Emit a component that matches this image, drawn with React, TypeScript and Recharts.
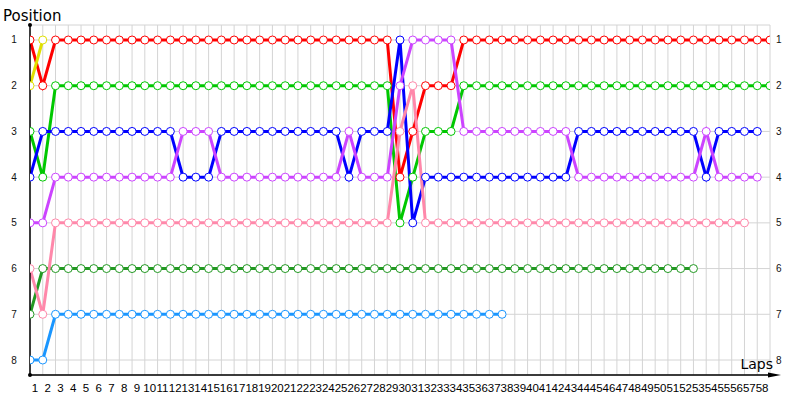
import React from 'react';
import { LineChart, Line, XAxis, YAxis, CartesianGrid } from 'recharts';

// Columns: 0 = start grid, then one column after each lap
const lapColumns = [
  0, 1, 2, 3, 4, 5, 6, 7, 8, 9,
  10, 11, 12, 13, 14, 15, 16, 17, 18, 19,
  20, 21, 22, 23, 24, 25, 26, 27, 28, 29,
  30, 31, 32, 33, 34, 35, 36, 37, 38, 39,
  40, 41, 42, 43, 44, 45, 46, 47, 48, 49,
  50, 51, 52, 53, 54, 55, 56, 57, 58,
];
const lapLabels = [
  1, 2, 3, 4, 5, 6, 7, 8, 9, 10,
  11, 12, 13, 14, 15, 16, 17, 18, 19, 20,
  21, 22, 23, 24, 25, 26, 27, 28, 29, 30,
  31, 32, 33, 34, 35, 36, 37, 38, 39, 40,
  41, 42, 43, 44, 45, 46, 47, 48, 49, 50,
  51, 52, 53, 54, 55, 56, 57, 58,
];
const positions = [1, 2, 3, 4, 5, 6, 7, 8];

const red = [
  1, 2, 1, 1, 1, 1, 1, 1, 1, 1,
  1, 1, 1, 1, 1, 1, 1, 1, 1, 1,
  1, 1, 1, 1, 1, 1, 1, 1, 1, 4,
  3, 2, 2, 2, 1, 1, 1, 1, 1, 1,
  1, 1, 1, 1, 1, 1, 1, 1, 1, 1,
  1, 1, 1, 1, 1, 1, 1, 1, 1,
];
const yellow = [
  2, 1, null, null, null, null, null, null, null, null,
  null, null, null, null, null, null, null, null, null, null,
  null, null, null, null, null, null, null, null, null, null,
  null, null, null, null, null, null, null, null, null, null,
  null, null, null, null, null, null, null, null, null, null,
  null, null, null, null, null, null, null, null, null,
];
const green = [
  3, 4, 2, 2, 2, 2, 2, 2, 2, 2,
  2, 2, 2, 2, 2, 2, 2, 2, 2, 2,
  2, 2, 2, 2, 2, 2, 2, 2, 2, 5,
  4, 3, 3, 3, 2, 2, 2, 2, 2, 2,
  2, 2, 2, 2, 2, 2, 2, 2, 2, 2,
  2, 2, 2, 2, 2, 2, 2, 2, 2,
];
const blue = [
  4, 3, 3, 3, 3, 3, 3, 3, 3, 3,
  3, 3, 4, 4, 4, 3, 3, 3, 3, 3,
  3, 3, 3, 3, 3, 4, 3, 3, 3, 1,
  5, 4, 4, 4, 4, 4, 4, 4, 4, 4,
  4, 4, 4, 3, 3, 3, 3, 3, 3, 3,
  3, 3, 3, 4, 3, 3, 3, 3, null,
];
const purple = [
  5, 5, 4, 4, 4, 4, 4, 4, 4, 4,
  4, 4, 3, 3, 3, 4, 4, 4, 4, 4,
  4, 4, 4, 4, 4, 3, 4, 4, 4, 2,
  1, 1, 1, 1, 3, 3, 3, 3, 3, 3,
  3, 3, 3, 4, 4, 4, 4, 4, 4, 4,
  4, 4, 4, 3, 4, 4, 4, 4, null,
];
const pink = [
  6, 7, 5, 5, 5, 5, 5, 5, 5, 5,
  5, 5, 5, 5, 5, 5, 5, 5, 5, 5,
  5, 5, 5, 5, 5, 5, 5, 5, 5, 3,
  2, 5, 5, 5, 5, 5, 5, 5, 5, 5,
  5, 5, 5, 5, 5, 5, 5, 5, 5, 5,
  5, 5, 5, 5, 5, 5, 5, null, null,
];
const darkGreen = [
  7, 6, 6, 6, 6, 6, 6, 6, 6, 6,
  6, 6, 6, 6, 6, 6, 6, 6, 6, 6,
  6, 6, 6, 6, 6, 6, 6, 6, 6, 6,
  6, 6, 6, 6, 6, 6, 6, 6, 6, 6,
  6, 6, 6, 6, 6, 6, 6, 6, 6, 6,
  6, 6, 6, null, null, null, null, null, null,
];
const lightBlue = [
  8, 8, 7, 7, 7, 7, 7, 7, 7, 7,
  7, 7, 7, 7, 7, 7, 7, 7, 7, 7,
  7, 7, 7, 7, 7, 7, 7, 7, 7, 7,
  7, 7, 7, 7, 7, 7, 7, 7, null, null,
  null, null, null, null, null, null, null, null, null, null,
  null, null, null, null, null, null, null, null, null,
];

const series = [
  { key: 'darkGreen', color: '#229922', values: darkGreen },
  { key: 'lightBlue', color: '#1a96ff', values: lightBlue },
  { key: 'green', color: '#00c800', values: green },
  { key: 'red', color: '#ff0000', values: red },
  { key: 'yellow', color: '#e0e000', values: yellow },
  { key: 'blue', color: '#0000ff', values: blue },
  { key: 'purple', color: '#cc44ff', values: purple },
  { key: 'pink', color: '#ff88aa', values: pink },
];

const data = lapColumns.map((col, i) => {
  const row: Record<string, number | null> = { col };
  series.forEach((s) => {
    row[s.key] = s.values[i];
  });
  return row;
});

// each lap label sits between the column before and after that lap
const labelTicks = lapLabels.map((n) => n - 0.5);

const FONT = 'Liberation Sans, Arial, sans-serif';

const XTick = (props: any) => (
  <text x={props.x} dx={-1.5} y={392} textAnchor="middle" fontSize={11.5} fontFamily={FONT} fill="#000">
    {Math.round(props.payload.value + 0.5)}
  </text>
);
const LeftTick = (props: any) => (
  <text x={14} y={props.y} dy="0.35em" textAnchor="middle" fontSize={10} fontFamily={FONT} fill="#111">
    {props.payload.value}
  </text>
);
const RightTick = (props: any) => (
  <text x={776} y={props.y} dy="0.35em" textAnchor="start" fontSize={10} fontFamily={FONT} fill="#111">
    {props.payload.value}
  </text>
);

export default function App() {
  return (
    <div style={{ position: 'absolute', left: 0, top: 0, width: 800, height: 400, background: '#fff' }}>
      <LineChart width={800} height={400} data={data} margin={{ top: 25, right: 0, bottom: 0, left: 0 }}>
        <CartesianGrid yAxisId="left" stroke="#d4d4d4" strokeWidth={1} verticalValues={lapColumns} />
        <XAxis
          dataKey="col"
          type="number"
          domain={[0, 58]}
          ticks={labelTicks}
          interval={0}
          height={25}
          tickLine={false}
          axisLine={{ stroke: '#000', strokeWidth: 1.5 }}
          tick={XTick}
          allowDataOverflow
        />
        <YAxis
          yAxisId="left"
          type="number"
          domain={[0.672, 8.328]}
          reversed
          ticks={positions}
          interval={0}
          width={30}
          tickLine={false}
          axisLine={{ stroke: '#000', strokeWidth: 1.5 }}
          tick={LeftTick}
          allowDataOverflow
        />
        <YAxis
          yAxisId="right"
          orientation="right"
          type="number"
          domain={[0.672, 8.328]}
          reversed
          ticks={positions}
          interval={0}
          width={30}
          tickLine={false}
          axisLine={false}
          tick={RightTick}
          allowDataOverflow
        />
        {series.map((s) => (
          <Line
            key={s.key}
            yAxisId="left"
            dataKey={s.key}
            stroke={s.color}
            strokeWidth={3}
            dot={{ r: 4, fill: '#fff', stroke: s.color, strokeWidth: 1 }}
            activeDot={false}
            connectNulls={false}
            isAnimationActive={false}
          />
        ))}
      </LineChart>
      <svg
        width={800}
        height={400}
        style={{ position: 'absolute', left: 0, top: 0, pointerEvents: 'none' }}
      >
        <text x={3} y={21} fontSize={15} fontFamily="DejaVu Sans, sans-serif" fill="#000">
          Position
        </text>
        <circle cx={30} cy={25} r={2} fill="#000" />
        <circle cx={30} cy={375} r={2} fill="#000" />
        <line x1={769} y1={375} x2={776} y2={375} stroke="#000" strokeWidth={1.5} />
        <polygon points="768,372.5 781,375 768,377.5" fill="#000" />
        <text x={773} y={369} textAnchor="end" fontSize={14} fontFamily="DejaVu Sans, sans-serif" fill="#000">
          Laps
        </text>
      </svg>
    </div>
  );
}
